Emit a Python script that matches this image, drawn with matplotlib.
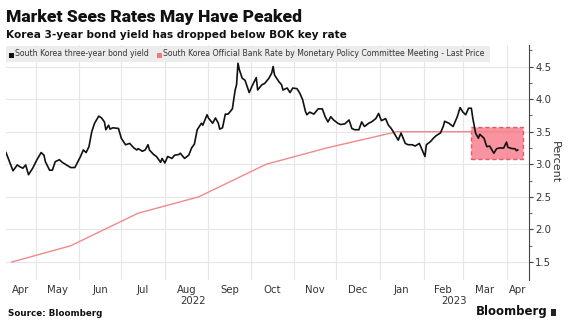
import matplotlib
matplotlib.use("Agg")
import matplotlib.pyplot as plt
import matplotlib.dates as mdates
from matplotlib.patches import Rectangle
import pandas as pd

# Korea 3-year government bond yield (%)
yield_dates = [
    "2022-04-10", "2022-04-15", "2022-04-18", "2022-04-20", "2022-04-22", "2022-04-24",
    "2022-04-26", "2022-04-29", "2022-05-02", "2022-05-05", "2022-05-07", "2022-05-08",
    "2022-05-11", "2022-05-13", "2022-05-15", "2022-05-18", "2022-05-20", "2022-05-23",
    "2022-05-26", "2022-05-29", "2022-06-02", "2022-06-04", "2022-06-06", "2022-06-08",
    "2022-06-10", "2022-06-12", "2022-06-15", "2022-06-17", "2022-06-19", "2022-06-20",
    "2022-06-22", "2022-06-23", "2022-06-25", "2022-06-29", "2022-07-01", "2022-07-04",
    "2022-07-07", "2022-07-10", "2022-07-12", "2022-07-13", "2022-07-16", "2022-07-18",
    "2022-07-20", "2022-07-21", "2022-07-24", "2022-07-26", "2022-07-29", "2022-07-30",
    "2022-08-01", "2022-08-03", "2022-08-06", "2022-08-08", "2022-08-11", "2022-08-12",
    "2022-08-15", "2022-08-18", "2022-08-20", "2022-08-22", "2022-08-24", "2022-08-27",
    "2022-08-28", "2022-08-31", "2022-09-01", "2022-09-04", "2022-09-06", "2022-09-08",
    "2022-09-09", "2022-09-11", "2022-09-13", "2022-09-15", "2022-09-18", "2022-09-20",
    "2022-09-21", "2022-09-22", "2022-09-23", "2022-09-25", "2022-09-27", "2022-09-30",
    "2022-10-02", "2022-10-05", "2022-10-06", "2022-10-09", "2022-10-11", "2022-10-14",
    "2022-10-16", "2022-10-17", "2022-10-18", "2022-10-21", "2022-10-23", "2022-10-24",
    "2022-10-27", "2022-10-29", "2022-10-31", "2022-11-03", "2022-11-05", "2022-11-07",
    "2022-11-09", "2022-11-10", "2022-11-12", "2022-11-15", "2022-11-18", "2022-11-21",
    "2022-11-23", "2022-11-25", "2022-11-27", "2022-11-29", "2022-12-02", "2022-12-04",
    "2022-12-07", "2022-12-10", "2022-12-12", "2022-12-14", "2022-12-17", "2022-12-19",
    "2022-12-21", "2022-12-24", "2022-12-26", "2022-12-29", "2022-12-31", "2023-01-02",
    "2023-01-05", "2023-01-07", "2023-01-09", "2023-01-11", "2023-01-14", "2023-01-16",
    "2023-01-19", "2023-01-21", "2023-01-24", "2023-01-26", "2023-01-29", "2023-01-31",
    "2023-02-02", "2023-02-03", "2023-02-06", "2023-02-08", "2023-02-10", "2023-02-13",
    "2023-02-15", "2023-02-16", "2023-02-19", "2023-02-22", "2023-02-25", "2023-02-27",
    "2023-03-01", "2023-03-03", "2023-03-05", "2023-03-07", "2023-03-08", "2023-03-10",
    "2023-03-12", "2023-03-13", "2023-03-16", "2023-03-18", "2023-03-20", "2023-03-23",
    "2023-03-25", "2023-03-27", "2023-03-30", "2023-04-01", "2023-04-02", "2023-04-05",
    "2023-04-07", "2023-04-08", "2023-04-09",
]
yield_values = [
    3.18, 2.90, 2.99, 2.96, 2.94, 2.99,
    2.84, 2.94, 3.07, 3.18, 3.14, 3.04,
    2.91, 2.91, 3.04, 3.07, 3.03, 2.99,
    2.95, 2.95, 3.12, 3.22, 3.18, 3.27,
    3.50, 3.63, 3.74, 3.71, 3.65, 3.53,
    3.60, 3.54, 3.56, 3.55, 3.40, 3.30,
    3.32, 3.25, 3.22, 3.24, 3.20, 3.22,
    3.30, 3.22, 3.15, 3.12, 3.03, 3.09,
    3.02, 3.12, 3.09, 3.14, 3.15, 3.17,
    3.09, 3.14, 3.25, 3.31, 3.53, 3.63,
    3.60, 3.76, 3.71, 3.63, 3.71, 3.63,
    3.54, 3.56, 3.77, 3.77, 3.85, 4.14,
    4.22, 4.55, 4.45, 4.32, 4.29, 4.10,
    4.20, 4.33, 4.14, 4.22, 4.24, 4.32,
    4.40, 4.50, 4.37, 4.27, 4.22, 4.14,
    4.17, 4.10, 4.17, 4.16, 4.09, 3.99,
    3.81, 3.76, 3.80, 3.77, 3.85, 3.85,
    3.73, 3.65, 3.73, 3.68, 3.63, 3.61,
    3.62, 3.68, 3.55, 3.53, 3.53, 3.65,
    3.58, 3.63, 3.65, 3.70, 3.78, 3.67,
    3.70, 3.60, 3.55, 3.48, 3.37, 3.48,
    3.32, 3.30, 3.30, 3.28, 3.32, 3.22,
    3.12, 3.30, 3.35, 3.40, 3.44, 3.48,
    3.58, 3.66, 3.63, 3.58, 3.73, 3.87,
    3.80, 3.76, 3.86, 3.86, 3.71, 3.48,
    3.40, 3.46, 3.40, 3.27, 3.28, 3.17,
    3.24, 3.25, 3.25, 3.34, 3.26, 3.24,
    3.24, 3.21, 3.22,
]

# Bank of Korea base rate at each Monetary Policy Committee meeting (%)
rate_dates = ["2022-04-14", "2022-05-26", "2022-07-13", "2022-08-25", "2022-10-12",
              "2022-11-24", "2023-01-13", "2023-02-23", "2023-04-11"]
rate_values = [1.50, 1.75, 2.25, 2.50, 3.00, 3.25, 3.50, 3.50, 3.50]

# Highlighted range after the February meeting
highlight_start, highlight_end = "2023-03-07", "2023-04-13"
highlight_low, highlight_high = 3.08, 3.57

y_ticks = [1.5, 2.0, 2.5, 3.0, 3.5, 4.0, 4.5]
month_labels = ["Apr", "May", "Jun", "Jul", "Aug", "Sep", "Oct", "Nov", "Dec",
                "Jan", "Feb", "Mar", "Apr"]
year_labels = ["2022", "2023"]

title = "Market Sees Rates May Have Peaked"
subtitle = "Korea 3-year bond yield has dropped below BOK key rate"
series_names = ["South Korea three-year bond yield",
                "South Korea Official Bank Rate by Monetary Policy Committee Meeting - Last Price"]

W, H = 569, 329
fig = plt.figure(figsize=(W / 100, H / 100), dpi=100)
fig.patch.set_facecolor("white")

def fx(px):
    return px / W

def fy(py):
    return 1 - py / H

x0 = pd.Timestamp("2022-04-10")
x1 = pd.Timestamp("2023-04-17")
ax = fig.add_axes([fx(6), fy(280), fx(529) - fx(6), fy(45) - fy(280)])
ax.set_xlim(x0, x1)
ax.set_ylim(1.225, 4.83)

yd = pd.to_datetime(yield_dates)
rd = pd.to_datetime(rate_dates)

# highlight box
hs, he = pd.Timestamp(highlight_start), pd.Timestamp(highlight_end)
rect = Rectangle((mdates.date2num(hs), highlight_low),
                 mdates.date2num(he) - mdates.date2num(hs),
                 highlight_high - highlight_low,
                 facecolor="#f7808e", edgecolor="#e2475a", linewidth=1.0,
                 linestyle=(0, (3, 2)), alpha=0.85, zorder=1)
ax.add_patch(rect)

ax.plot(rd, rate_values, color="#f08a8a", linewidth=1.0, zorder=2)
ax.plot(yd, yield_values, color="#111111", linewidth=1.2, zorder=3)

# gridlines: horizontal at every tick, vertical at month starts
for v in y_ticks:
    ax.axhline(v, color="#e6e6e6", linewidth=0.8, zorder=0)
month_starts = pd.date_range("2022-05-01", "2023-04-01", freq="MS")
for m in month_starts:
    ax.axvline(m, color="#e6e6e6", linewidth=0.8, zorder=0)

# y axis on the right
ax.yaxis.tick_right()
ax.yaxis.set_label_position("right")
ax.set_yticks(y_ticks)
ax.set_yticklabels([f"{v:.1f}" for v in y_ticks], fontsize=7.3, color="#333333")
ax.set_yticks([v + 0.25 for v in y_ticks[:-1]] + [y_ticks[-1] + 0.25], minor=True)
ax.tick_params(axis="y", which="major", direction="out", length=3, width=0.8,
               color="#444444", pad=1.5)
ax.tick_params(axis="y", which="minor", direction="out", length=2, width=0.6,
               color="#444444")
ax.set_ylabel("Percent", rotation=270, fontsize=8, color="#333333", labelpad=6)

for s in ["top", "left", "bottom"]:
    ax.spines[s].set_visible(False)
ax.spines["right"].set_color("#444444")
ax.spines["right"].set_linewidth(0.8)

# month labels centred in the visible part of each month
ax.set_xticks([])
bounds = [x0] + list(month_starts) + [x1]
for i, lab in enumerate(month_labels):
    a, b = bounds[i], bounds[i + 1]
    mid = a + (b - a) / 2
    ax.text(mid, -0.022, lab, transform=ax.get_xaxis_transform(), ha="center",
            va="top", fontsize=7.3, color="#333333")
year_bounds = [(x0, pd.Timestamp("2023-01-01")), (pd.Timestamp("2023-01-01"), x1)]
for (a, b), lab in zip(year_bounds, year_labels):
    mid = a + (b - a) / 2
    ax.text(mid, -0.067, lab, transform=ax.get_xaxis_transform(), ha="center",
            va="top", fontsize=7.3, color="#333333")

# titles
fig.text(fx(6), fy(22), title, fontsize=12.6, fontweight=900,
         family="Roboto", color="#111111", va="baseline")
fig.text(fx(6), fy(38.5), subtitle, fontsize=7.6, fontweight="bold",
         family="DejaVu Sans", color="#111111", va="baseline")

# legend strip
fig.patches.append(Rectangle((fx(6), fy(62)), fx(490) - fx(6), fy(46) - fy(62),
                             transform=fig.transFigure, facecolor="#ececec",
                             edgecolor="none", zorder=5))
fig.patches.append(Rectangle((fx(9), fy(57.5)), fx(4.5), fy(53) - fy(57.5),
                             transform=fig.transFigure, facecolor="#111111",
                             edgecolor="none", zorder=6))
fig.text(fx(15), fy(54), series_names[0], fontsize=5.6, color="#333333",
         va="center", zorder=7)
fig.patches.append(Rectangle((fx(157), fy(57.5)), fx(4.5), fy(53) - fy(57.5),
                             transform=fig.transFigure, facecolor="#f07a80",
                             edgecolor="none", zorder=6))
fig.text(fx(163), fy(54), series_names[1], fontsize=5.6, color="#333333",
         va="center", zorder=7)

# footer
fig.text(fx(8), fy(313), "Source: Bloomberg", fontsize=6.3, fontweight="bold",
         color="#111111", va="center")
fig.text(fx(548), fy(312), "Bloomberg", fontsize=8.5, fontweight="bold",
         color="#111111", va="center", ha="right")
fig.patches.append(Rectangle((fx(551), fy(315.5)), fx(5), fy(309) - fy(315.5),
                             transform=fig.transFigure, facecolor="#222222",
                             edgecolor="none"))

fig.savefig("out.png", dpi=100, facecolor="white")
